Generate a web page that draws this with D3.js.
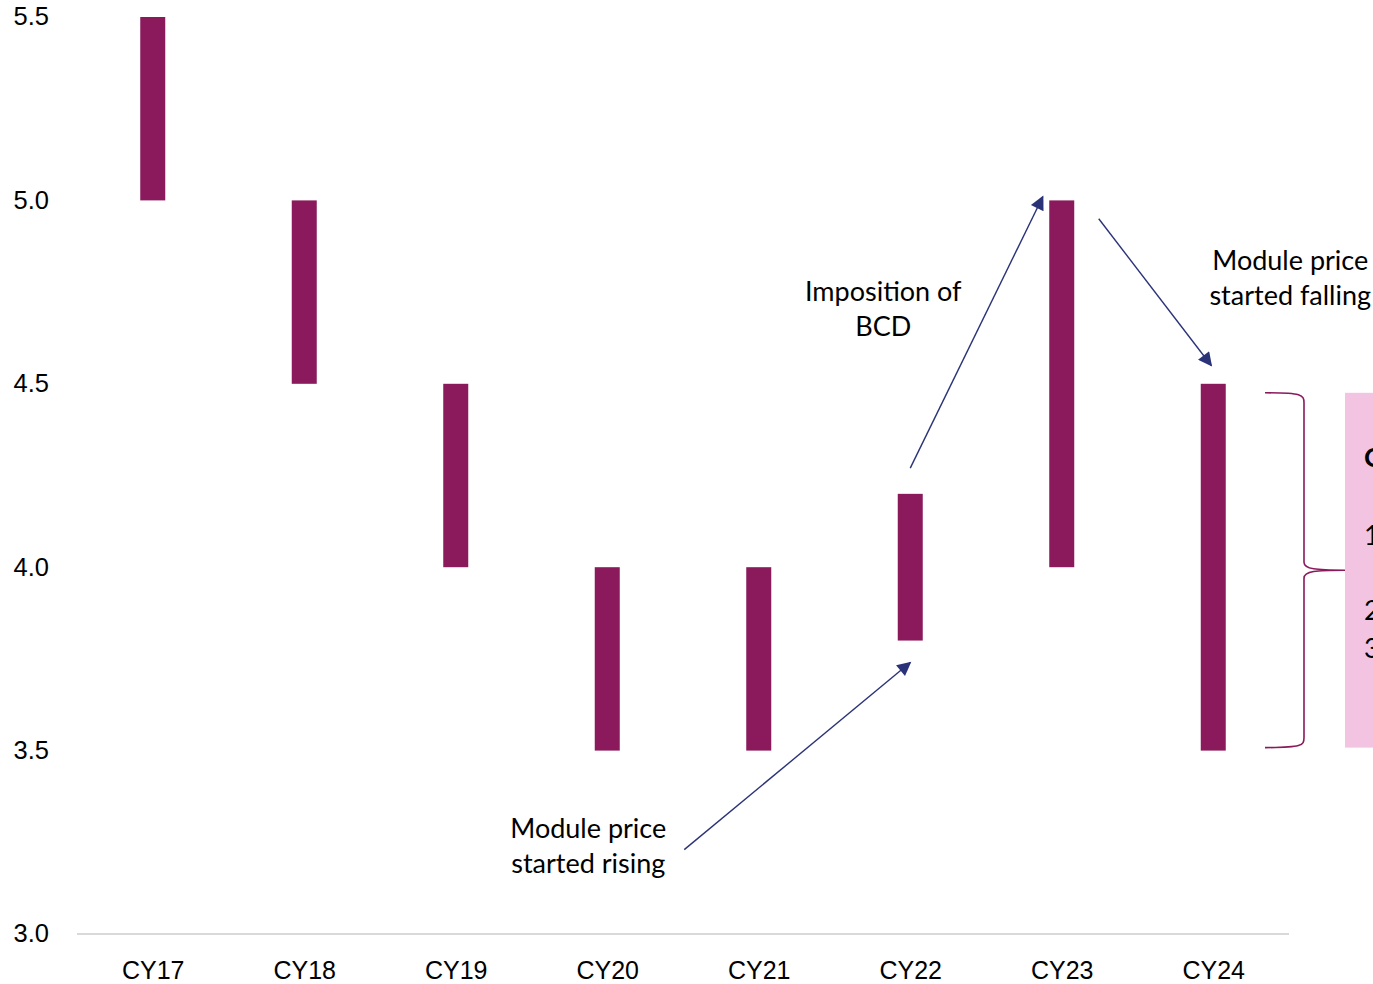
<!DOCTYPE html>
<html>
<head>
<meta charset="utf-8">
<script src="https://cdn.jsdelivr.net/npm/d3@7"></script>
<style>
  html, body { margin: 0; padding: 0; background: #fff; overflow: hidden; }
  svg { display: block; }
</style>
</head>
<body>
<svg id="chart" width="1373" height="984"></svg>
<script>
// Annual price range per calendar year (low / high)
const years = ["CY17", "CY18", "CY19", "CY20", "CY21", "CY22", "CY23", "CY24"];
const lows  = [5.0, 4.5, 4.0, 3.5, 3.5, 3.8, 4.0, 3.5];
const highs = [5.5, 5.0, 4.5, 4.0, 4.0, 4.2, 5.0, 4.5];
const yTicks = [3.0, 3.5, 4.0, 4.5, 5.0, 5.5];

// Annotation texts with the year/value they point at
const notes = [
  { lines: ["Module price", "started rising"], from: ["CY20", 3.23], to: ["CY22", 3.74], text: ["CY20", 3.263] },
  { lines: ["Imposition of", "BCD"], from: ["CY22", 4.27], to: ["CY23", 5.01], text: ["CY22", 4.725] },
  { lines: ["Module price", "started falling"], from: ["CY23", 4.95], to: ["CY24", 4.55], text: ["CY24", 4.81] }
];
const boxLines = ["Causes", "1. Oversupply", "2. Lower input costs", "3. Weak demand"];

const barColor = "#8b1a5c";
const arrowColor = "#2b3378";
const svg = d3.select("#chart");

const x = d3.scalePoint().domain(years).range([77, 1289]).padding(0.5);
const y = d3.scaleLinear().domain([3.0, 5.5]).range([934, 17]);
const barW = 25;

// Baseline
svg.append("line")
  .attr("x1", 77).attr("x2", 1289)
  .attr("y1", y(3.0)).attr("y2", y(3.0))
  .attr("stroke", "#d9d9d9").attr("stroke-width", 2);

// Y axis labels
const yAxis = d3.axisLeft(y).tickValues(yTicks).tickFormat(d3.format(".1f")).tickSize(0).tickPadding(0);
const gy = svg.append("g").attr("transform", "translate(49,-1)").call(yAxis);
gy.select(".domain").remove();
gy.selectAll("text")
  .attr("font-family", "Liberation Sans, Arial, sans-serif")
  .attr("font-size", 25.5).attr("fill", "#000").attr("dy", "0.35em");

// X axis labels
const xAxis = d3.axisBottom(x).tickSize(0).tickPadding(0);
const gx = svg.append("g").attr("transform", "translate(0,970)").call(xAxis);
gx.select(".domain").remove();
gx.selectAll("text")
  .attr("font-family", "Liberation Sans, Arial, sans-serif")
  .attr("font-size", 25).attr("fill", "#000").attr("dy", "0.35em");

// Range bars
svg.append("g").selectAll("rect")
  .data(years)
  .join("rect")
  .attr("x", (d) => x(d) - barW / 2)
  .attr("width", barW)
  .attr("y", (d, i) => y(highs[i]))
  .attr("height", (d, i) => y(lows[i]) - y(highs[i]))
  .attr("fill", barColor);

// Arrowhead marker
svg.append("defs").append("marker")
  .attr("id", "head")
  .attr("viewBox", "0 0 10 10")
  .attr("refX", 9).attr("refY", 5)
  .attr("markerWidth", 18).attr("markerHeight", 14)
  .attr("markerUnits", "userSpaceOnUse")
  .attr("orient", "auto")
  .append("path").attr("d", "M0,0 L10,5 L0,10 Z").attr("fill", arrowColor);

const px = (p, dx) => x(p[0]) + dx;

// Arrow offsets relative to the year positions
const arrowDx = [[77, 0], [0, -19], [37, -2]];
const textDx = [-19, -27, 77];

notes.forEach((n, i) => {
  svg.append("line")
    .attr("x1", px(n.from, arrowDx[i][0])).attr("y1", y(n.from[1]))
    .attr("x2", px(n.to, arrowDx[i][1])).attr("y2", y(n.to[1]))
    .attr("stroke", arrowColor).attr("stroke-width", 1.4)
    .attr("marker-end", "url(#head)");
  const t = svg.append("text")
    .attr("x", px(n.text, textDx[i]))
    .attr("y", y(n.text[1]))
    .attr("text-anchor", "middle")
    .attr("font-family", "Lato, 'Open Sans', sans-serif")
    .attr("font-size", 27).attr("fill", "#000");
  n.lines.forEach((l, j) => {
    t.append("tspan").attr("x", px(n.text, textDx[i])).attr("dy", j === 0 ? 0 : 35).text(l);
  });
});

// Brace spanning the CY24 range, pointing at the side box
const braceTop = y(highs[7]) + 9, braceBot = y(lows[7]) - 3, braceMid = (braceTop + braceBot) / 2;
const bx0 = 1265, bx1 = 1304, tip = 1345;
const brace = d3.path();
brace.moveTo(bx0, braceTop);
brace.bezierCurveTo(bx1 - 2, braceTop, bx1, braceTop + 2, bx1, braceTop + 10);
brace.lineTo(bx1, braceMid - 8);
brace.bezierCurveTo(bx1, braceMid - 1, bx1 + 12, braceMid, tip, braceMid);
brace.bezierCurveTo(bx1 + 12, braceMid, bx1, braceMid + 1, bx1, braceMid + 8);
brace.lineTo(bx1, braceBot - 10);
brace.bezierCurveTo(bx1, braceBot - 2, bx1 - 2, braceBot, bx0, braceBot);
svg.append("path").attr("d", brace.toString())
  .attr("fill", "none").attr("stroke", barColor).attr("stroke-width", 1.6);

// Side box (runs past the right edge of the canvas)
svg.append("rect")
  .attr("x", tip).attr("y", braceTop).attr("width", 200).attr("height", braceBot - braceTop)
  .attr("fill", "#f2c4e2");
const boxY = [467, 545, 620, 658];
boxLines.forEach((l, i) => {
  svg.append("text")
    .attr("x", 1364).attr("y", boxY[i])
    .attr("font-family", "Lato, 'Open Sans', sans-serif")
    .attr("font-size", 27)
    .attr("font-weight", i === 0 ? "bold" : "normal")
    .attr("fill", "#000").text(l);
});
</script>
</body>
</html>
